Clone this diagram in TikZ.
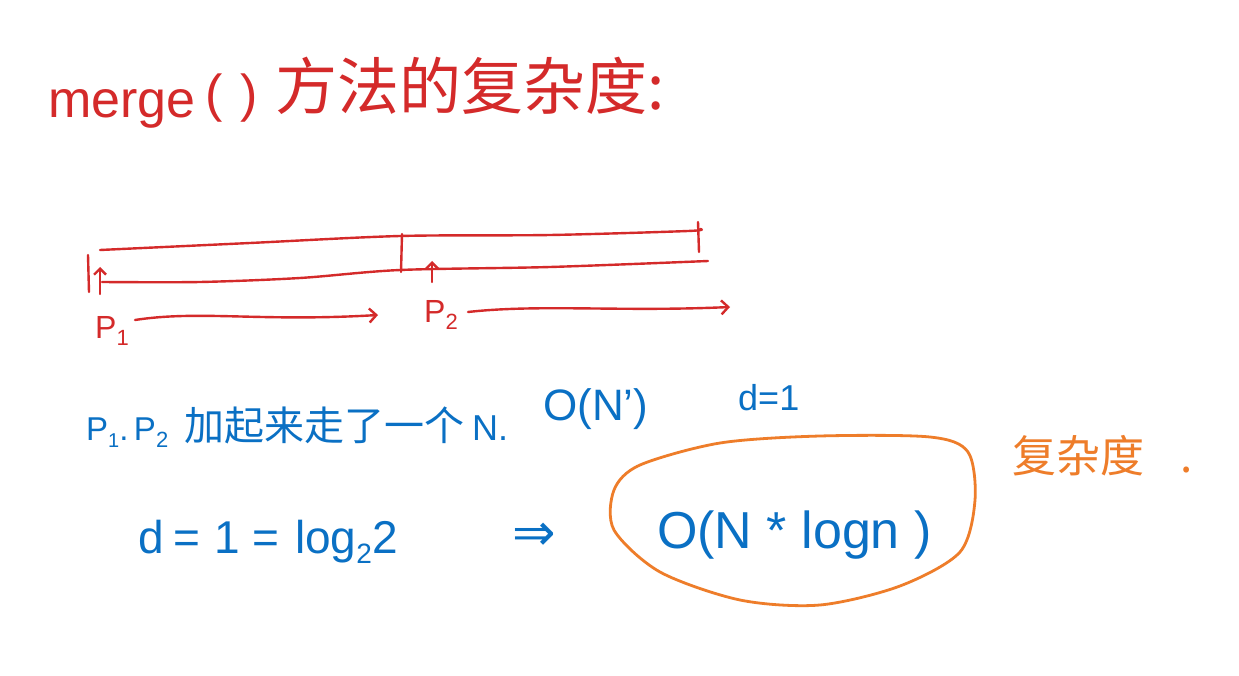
\documentclass[tikz,border=0pt]{standalone}
\usepackage{fontspec}
\setmainfont{Liberation Sans}
\newfontfamily\cjk{Noto Sans CJK SC}
\newfontfamily\dvs{DejaVu Sans}
\usetikzlibrary{arrows.meta}
\definecolor{inkred}{HTML}{D42A2A}
\definecolor{inkblue}{HTML}{0A70C4}
\definecolor{inkorange}{HTML}{EE7D2A}
\newcommand{\fs}[1]{\fontsize{#1}{#1}\selectfont}
\newcommand{\lowsub}[2]{\raisebox{-0.22em}{\fs{#1}#2}}
\begin{document}
\begin{tikzpicture}[x=1pt,y=-1pt,line cap=round,line join=round,
  redline/.style={draw=inkred,line width=2.4pt},
  orangeline/.style={draw=inkorange,line width=2.8pt},
  redtxt/.style={text=inkred,anchor=base west,inner sep=0pt},
  bluetxt/.style={text=inkblue,anchor=base west,inner sep=0pt},
  orangetxt/.style={text=inkorange,anchor=base west,inner sep=0pt},
  barb/.style={-{Straight Barb[length=7pt,width=14pt]}}]
\useasboundingbox[fill=white] (0,0) rectangle (1239,676);
% title
\node[redtxt,font=\fs{52}] (merge) at (48,118) {merge};
\node[redtxt,font=\fs{52}] (paren) at (205,112) {(\hspace{18pt})};
\node[redtxt,font=\cjk\fs{62}] (title) at (275,110) {方法的复杂度:};
% array
\draw[redline] plot[smooth] coordinates {(100,250) (250,243) (400,236) (550,235) (688,231) (700,229)};
\draw[redline] (698,222) -- (699,252);
\draw[redline] plot[smooth] coordinates {(102,282) (200,282) (300,278) (400,270) (550,267) (708,261)};
\draw[redline] (88,255) -- (89,292);
\draw[redline] (402,234) -- (401,272);
\coordinate (p1b) at (100,294);
\coordinate (p1t) at (100,267);
\coordinate (p2b) at (432,282);
\coordinate (p2t) at (432,261);
\draw[redline,-{Straight Barb[length=6pt,width=12pt]}] (p1b) -- (p1t);
\draw[redline,-{Straight Barb[length=6pt,width=12pt]}] (p2b) -- (p2t);
\node[redtxt,font=\fs{32}] (P1) at (95,338) {P\lowsub{22}{1}};
\coordinate (a1s) at (135,320);
\coordinate (a1e) at (378,315);
\draw[redline,barb] (a1s) .. controls (200,310) and (260,322) .. (a1e);
\node[redtxt,font=\fs{32}] (P2) at (424,322) {P\lowsub{22}{2}};
\coordinate (a2s) at (468,312);
\coordinate (a2e) at (730,307);
\draw[redline,barb] (a2s) .. controls (540,304) and (620,312) .. (a2e);
% blue line 1
\node[bluetxt,font=\fs{33}] (p12) at (86,440) {P\lowsub{20}{1}.\,P\lowsub{22}{2}};
\node[bluetxt,font=\cjk\fs{40}] (walk) at (184,440) {加起来走了一个};
\node[bluetxt,font=\fs{36}] (N) at (472,440) {N.};
\node[bluetxt,font=\fs{44}] (ON) at (543,420) {O(N{\char"27})};
\node[bluetxt,font=\fs{36}] (d1) at (738,410) {d=1};
% blue line 2
\node[bluetxt,font=\fs{46}] (dlog) at (138,553) {d\hspace{10pt}=\hspace{14pt}1\hspace{12pt}=\hspace{16pt}log\lowsub{28}{2}2};
\node[bluetxt,font=\dvs\fs{52}] (imp) at (512,550) {⇒};
\node[bluetxt,font=\fs{52}] (res) at (657,548) {O(N * logn )};
% orange
\draw[orangeline] plot[smooth cycle] coordinates {(640,465) (720,443) (820,436) (930,437) (968,452) (975,500) (960,552) (900,586) (820,605) (740,600) (660,572) (614,530) (614,490)};
\node[orangetxt,font=\cjk\fs{44}] (cx) at (1012,472) {复杂度\hspace{36pt}.};
\end{tikzpicture}
\end{document}
